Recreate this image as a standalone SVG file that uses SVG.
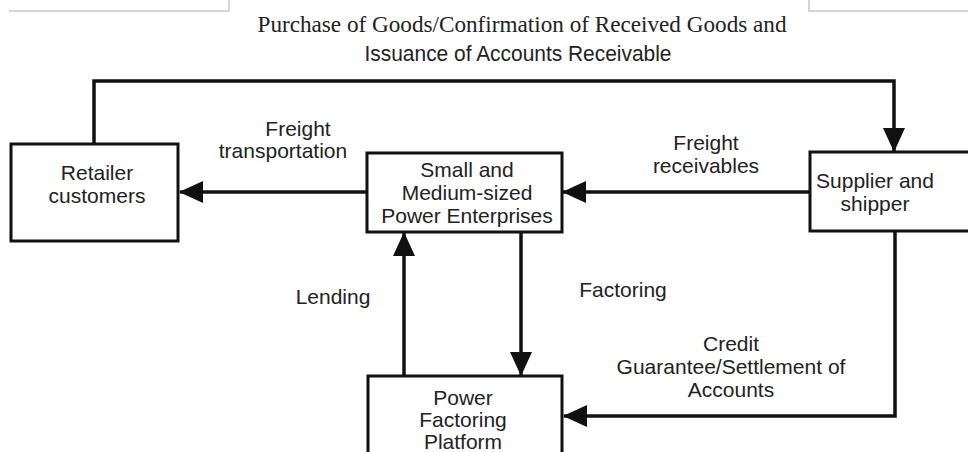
<svg xmlns="http://www.w3.org/2000/svg" width="968" height="452" viewBox="0 0 968 452">
  <style>
    .box { fill: #ffffff; stroke: #111111; stroke-width: 3; }
    .edge { fill: none; stroke: #111111; stroke-width: 3.5; }
    .lbl { font-family: "Liberation Sans", Arial, sans-serif; font-size: 21px; fill: #222222; text-anchor: middle; }
    .frame { fill: none; stroke: #c8c8c8; stroke-width: 1.5; }
  </style>
  <defs>
    <marker id="arrow" viewBox="0 0 24 22" refX="23" refY="11" markerWidth="24" markerHeight="22" markerUnits="userSpaceOnUse" orient="auto">
      <path d="M0,0 L24,11 L0,22 Z" fill="#111111"/>
    </marker>
  </defs>

  <rect width="968" height="452" fill="#ffffff"/>

  <!-- page frame corners -->
  <path class="frame" d="M9,11 H229 V0"/>
  <path class="frame" d="M809,0 V11 H968"/>

  <!-- title -->
  <g id="title">
    <text x="522" y="32" font-family="'Liberation Serif', 'Times New Roman', serif" font-size="23" fill="#222222" text-anchor="middle" textLength="529" lengthAdjust="spacingAndGlyphs">Purchase of Goods/Confirmation of Received Goods and</text>
    <text x="518" y="61" font-family="'Liberation Sans', Arial, sans-serif" font-size="22" fill="#222222" text-anchor="middle" textLength="307" lengthAdjust="spacingAndGlyphs">Issuance of Accounts Receivable</text>
  </g>

  <!-- connectors -->
  <g id="connectors">
    <path class="edge" d="M94,143 V81 H894 V151" marker-end="url(#arrow)"/>
    <path class="edge" d="M367,192 H180" marker-end="url(#arrow)"/>
    <path class="edge" d="M810,192 H563" marker-end="url(#arrow)"/>
    <path class="edge" d="M404,376 V233" marker-end="url(#arrow)"/>
    <path class="edge" d="M521,232 V375" marker-end="url(#arrow)"/>
    <path class="edge" d="M895,231 V416 H564" marker-end="url(#arrow)"/>
  </g>

  <!-- connector labels -->
  <g id="edge-labels">
    <text class="lbl" x="298" y="136">Freight</text>
    <text class="lbl" x="283" y="158">transportation</text>
    <text class="lbl" x="706" y="150">Freight</text>
    <text class="lbl" x="706" y="173">receivables</text>
    <text class="lbl" x="333" y="304">Lending</text>
    <text class="lbl" x="623" y="297">Factoring</text>
    <text class="lbl" x="731" y="351">Credit</text>
    <text class="lbl" x="731" y="374">Guarantee/Settlement of</text>
    <text class="lbl" x="731" y="397">Accounts</text>
  </g>

  <!-- nodes -->
  <g id="retailer">
    <rect class="box" x="11" y="144" width="167" height="97"/>
    <text class="lbl" x="97" y="180">Retailer</text>
    <text class="lbl" x="97" y="203">customers</text>
  </g>

  <g id="sme">
    <rect class="box" x="367" y="153" width="195" height="79"/>
    <text class="lbl" x="467" y="177">Small and</text>
    <text class="lbl" x="467" y="200">Medium-sized</text>
    <text class="lbl" x="467" y="223">Power Enterprises</text>
  </g>

  <g id="supplier">
    <rect class="box" x="810" y="152" width="170" height="79"/>
    <text class="lbl" x="875" y="188">Supplier and</text>
    <text class="lbl" x="875" y="211">shipper</text>
  </g>

  <g id="factoring-platform">
    <rect class="box" x="368" y="376" width="194" height="90"/>
    <text class="lbl" x="463" y="405">Power</text>
    <text class="lbl" x="463" y="427">Factoring</text>
    <text class="lbl" x="463" y="449">Platform</text>
  </g>
</svg>
